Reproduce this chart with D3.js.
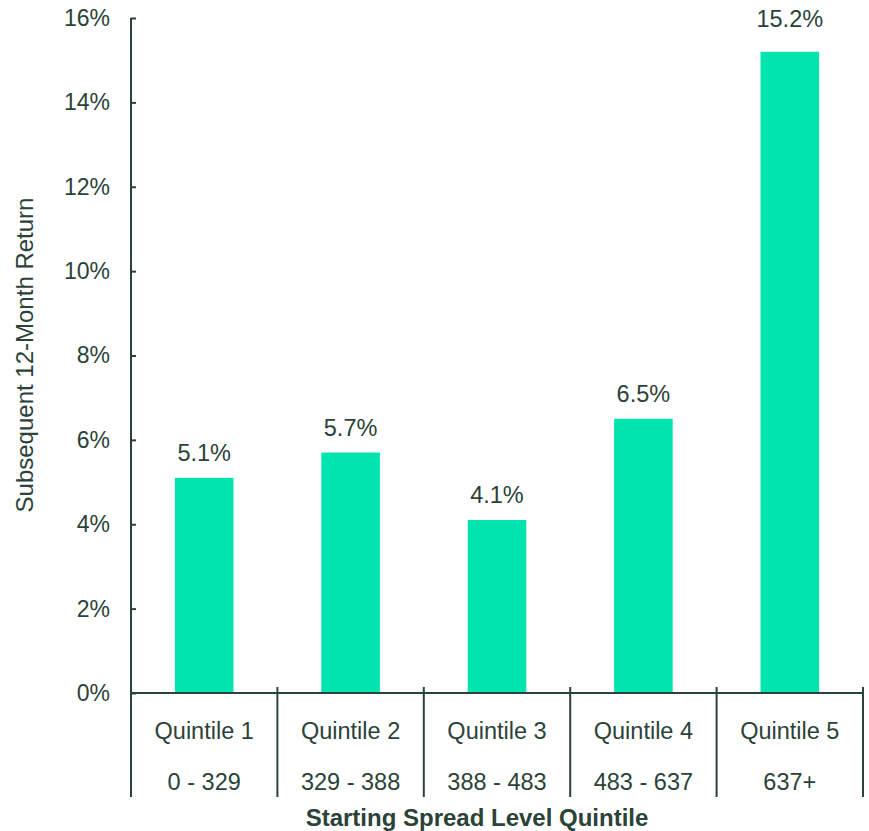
<!DOCTYPE html>
<html>
<head>
<meta charset="utf-8">
<script src="https://cdn.jsdelivr.net/npm/d3@7"></script>
<style>
  html, body { margin: 0; padding: 0; background: #fff; }
  svg text { font-family: "Liberation Sans", Arial, sans-serif; fill: #2b4239; }
</style>
</head>
<body>
<svg id="chart" width="869" height="831"></svg>
<script>
// Subsequent 12-month return by starting spread level quintile
const quintiles = ["Quintile 1", "Quintile 2", "Quintile 3", "Quintile 4", "Quintile 5"];
const spreadRanges = ["0 - 329", "329 - 388", "388 - 483", "483 - 637", "637+"];
const returns = [5.1, 5.7, 4.1, 6.5, 15.2];
const yTicks = [0, 2, 4, 6, 8, 10, 12, 14, 16];

const ink = "#2b4239";
const barColor = "#00e5b0";
const fontSize = 23.5;

const svg = d3.select("#chart");
const plot = { left: 131, right: 863, top: 18, bottom: 693 };
const tableBottom = 797;

const x = d3.scaleBand().domain(quintiles).range([plot.left, plot.right]).paddingInner(0).paddingOuter(0);
const y = d3.scaleLinear().domain([0, 16]).range([plot.bottom, plot.top]);
const barWidth = x.bandwidth() * 0.4;

// Bars
svg.append("g").selectAll("rect")
  .data(quintiles)
  .join("rect")
  .attr("x", (d) => x(d) + (x.bandwidth() - barWidth) / 2)
  .attr("y", (d, i) => y(returns[i]))
  .attr("width", barWidth)
  .attr("height", (d, i) => y(0) - y(returns[i]))
  .attr("fill", barColor);

// Value labels above bars; a label near the top of the plot is lined up with the top tick
const labelY = (v) => {
  const natural = y(v) - 17;
  return natural < plot.top + 25 ? plot.top + 9 : natural;
};
svg.append("g").selectAll("text")
  .data(quintiles)
  .join("text")
  .attr("x", (d) => x(d) + x.bandwidth() / 2)
  .attr("y", (d, i) => labelY(returns[i]))
  .attr("text-anchor", "middle")
  .attr("font-size", fontSize)
  .text((d, i) => returns[i].toFixed(1) + "%");

// Y axis
const yAxis = svg.append("g")
  .attr("transform", `translate(${plot.left},0)`)
  .call(d3.axisRight(y).tickValues(yTicks).tickSize(5).tickPadding(0).tickFormat((d) => d + "%"));
yAxis.select(".domain").remove();
yAxis.selectAll(".tick line").attr("stroke", ink).attr("stroke-width", 2);
yAxis.selectAll(".tick text")
  .attr("x", -21)
  .attr("text-anchor", "end")
  .attr("font-size", 23)
  .attr("font-family", null);

// Y axis line, extended down through the category table
svg.append("line")
  .attr("x1", plot.left).attr("x2", plot.left)
  .attr("y1", plot.top).attr("y2", tableBottom)
  .attr("stroke", ink).attr("stroke-width", 2);

// X axis baseline
svg.append("line")
  .attr("x1", plot.left).attr("x2", plot.right)
  .attr("y1", plot.bottom).attr("y2", plot.bottom)
  .attr("stroke", ink).attr("stroke-width", 2);

// Category dividers
const edges = quintiles.map((d) => x(d)).concat([plot.right]).slice(1);
svg.append("g").selectAll("line")
  .data(edges)
  .join("line")
  .attr("x1", (d) => d).attr("x2", (d) => d)
  .attr("y1", plot.bottom - 6).attr("y2", tableBottom)
  .attr("stroke", ink).attr("stroke-width", 2);

// Category labels (two rows)
svg.append("g").selectAll("text")
  .data(quintiles)
  .join("text")
  .attr("x", (d) => x(d) + x.bandwidth() / 2)
  .attr("y", 739)
  .attr("text-anchor", "middle")
  .attr("font-size", fontSize)
  .text((d) => d);

svg.append("g").selectAll("text")
  .data(quintiles)
  .join("text")
  .attr("x", (d) => x(d) + x.bandwidth() / 2)
  .attr("y", 790)
  .attr("text-anchor", "middle")
  .attr("font-size", fontSize)
  .text((d, i) => spreadRanges[i]);

// Axis titles
svg.append("text")
  .attr("x", 477)
  .attr("y", 826)
  .attr("text-anchor", "middle")
  .attr("font-size", 24)
  .attr("font-weight", "bold")
  .text("Starting Spread Level Quintile");

svg.append("text")
  .attr("transform", "translate(33,355) rotate(-90)")
  .attr("text-anchor", "middle")
  .attr("font-size", 24)
  .text("Subsequent 12-Month Return");
</script>
</body>
</html>
